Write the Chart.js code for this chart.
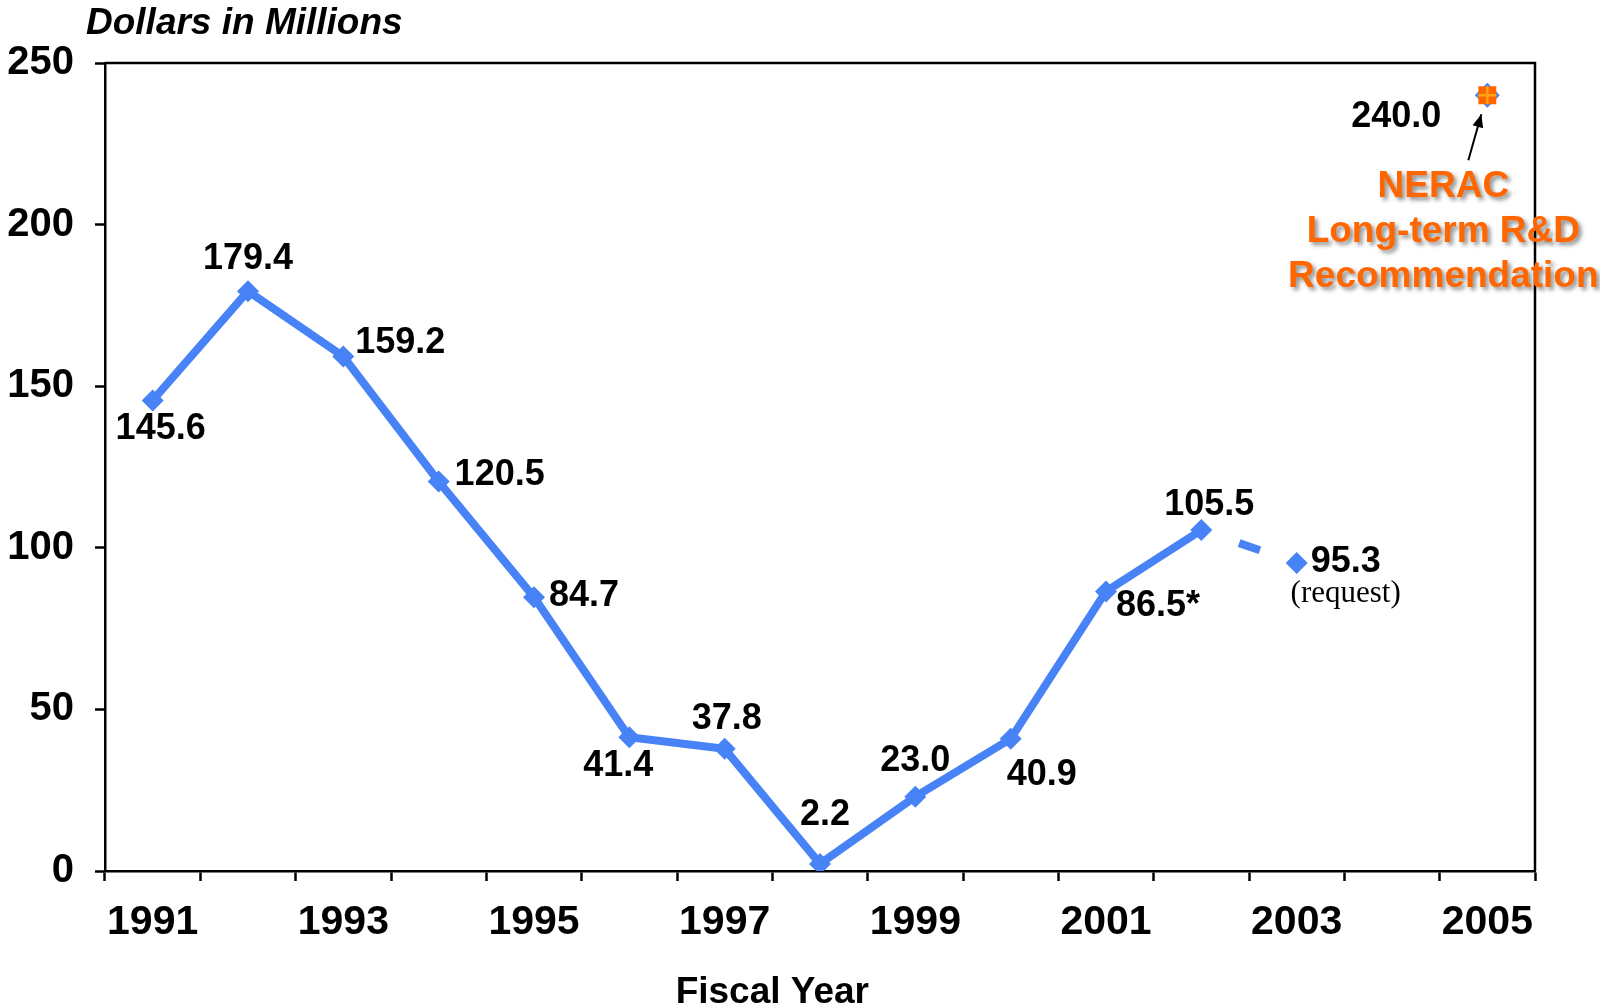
<!DOCTYPE html>
<html>
<head>
<meta charset="utf-8">
<title>Fiscal Year Funding</title>
<script src="https://cdn.jsdelivr.net/npm/chart.js@4/dist/chart.umd.min.js"></script>
<style>
  html, body { margin: 0; padding: 0; background: #fff; }
  #wrap { width: 1600px; height: 1008px; }
</style>
</head>
<body>
<div id="wrap"><canvas id="chart" width="1600" height="1008"></canvas></div>
<script>
// ---- data ----
const years = ['1991', '1992', '1993', '1994', '1995', '1996', '1997', '1998',
               '1999', '2000', '2001', '2002', '2003', '2004', '2005'];
const funding = [145.6, 179.4, 159.2, 120.5, 84.7, 41.4, 37.8, 2.2,
                 23.0, 40.9, 86.5, 105.5, 95.3, null, null];
const fundingSuffix = ['', '', '', '', '', '', '', '', '', '', '*', '', '', '', ''];
const requestYear = '2003';
const neracYear = '2005';
const neracValue = 240.0;
const yTicks = [0, 50, 100, 150, 200, 250];

// label offsets from each point (px)
const labelOffsets = [
  [8, 29], [0, -32], [57, -13], [61, -6], [50, -1], [-11, 29], [2, -30],
  [5, -49], [0, -36], [31, 36], [52, 15], [8, -25], [49, -1]
];

const BLUE = '#4783f6';
const ORANGE = '#ff6600';
const FONT = '"Liberation Sans", Arial, sans-serif';

// index of the last actual (solid) segment start
const dashedFrom = years.indexOf('2002');

// ---- text, arrow and frame drawn on top of the chart ----
const annotations = {
  id: 'annotations',
  afterDatasetsDraw(chart) {
    const ctx = chart.ctx;
    const area = chart.chartArea;
    const x = chart.scales.x;
    const y = chart.scales.y;
    ctx.save();

    // frame (top and right)
    ctx.strokeStyle = '#000';
    ctx.lineWidth = 2.5;
    ctx.beginPath();
    ctx.moveTo(area.left, area.top);
    ctx.lineTo(area.right, area.top);
    ctx.lineTo(area.right, area.bottom);
    ctx.stroke();

    // value labels
    ctx.fillStyle = '#000';
    ctx.font = 'bold 36px ' + FONT;
    ctx.textAlign = 'center';
    ctx.textBaseline = 'middle';
    funding.forEach((v, i) => {
      if (v === null) return;
      const px = x.getPixelForValue(i);
      const py = y.getPixelForValue(v);
      const off = labelOffsets[i];
      ctx.fillText(v.toFixed(1) + fundingSuffix[i], px + off[0], py + off[1]);
    });

    // "(request)" under the 2003 value
    const ri = years.indexOf(requestYear);
    const rx = x.getPixelForValue(ri);
    const ry = y.getPixelForValue(funding[ri]);
    ctx.font = '31px "Liberation Serif", "Times New Roman", serif';
    ctx.fillText('(request)', rx + 49, ry + 31);

    // NERAC recommendation
    const nx = x.getPixelForValue(years.indexOf(neracYear));
    const ny = y.getPixelForValue(neracValue);
    ctx.font = 'bold 36px ' + FONT;
    ctx.fillText(neracValue.toFixed(1), nx - 91, ny + 22);

    // arrow
    const ax0 = nx - 19, ay0 = ny + 65;
    const ax1 = nx - 6, ay1 = ny + 19;
    ctx.strokeStyle = '#000';
    ctx.lineWidth = 2;
    ctx.beginPath();
    ctx.moveTo(ax0, ay0);
    ctx.lineTo(ax1, ay1);
    ctx.stroke();
    const ang = Math.atan2(ay1 - ay0, ax1 - ax0);
    ctx.beginPath();
    ctx.moveTo(ax1, ay1);
    ctx.lineTo(ax1 - 14 * Math.cos(ang - 0.4), ay1 - 14 * Math.sin(ang - 0.4));
    ctx.lineTo(ax1 - 14 * Math.cos(ang + 0.4), ay1 - 14 * Math.sin(ang + 0.4));
    ctx.closePath();
    ctx.fillStyle = '#000';
    ctx.fill();

    // orange caption with soft shadow
    ctx.font = 'bold 37px ' + FONT;
    ctx.fillStyle = ORANGE;
    ctx.shadowColor = 'rgba(0,0,0,0.45)';
    ctx.shadowBlur = 4;
    ctx.shadowOffsetX = 3;
    ctx.shadowOffsetY = 3;
    ctx.fillText('NERAC', nx - 44, ny + 91);
    ctx.fillText('Long-term R&D', nx - 44, ny + 136);
    ctx.fillText('Recommendation', nx - 44, ny + 181);
    ctx.shadowColor = 'transparent';

    // axis captions
    ctx.fillStyle = '#000';
    ctx.font = 'italic bold 37px ' + FONT;
    ctx.textAlign = 'left';
    ctx.fillText('Dollars in Millions', 86, 24);
    ctx.textAlign = 'center';
    ctx.font = 'bold 37px ' + FONT;
    ctx.fillText('Fiscal Year', (x.getPixelForValue(6) + x.getPixelForValue(7)) / 2, 993);

    ctx.restore();
  }
};

const ctx = document.getElementById('chart').getContext('2d');
new Chart(ctx, {
  type: 'line',
  data: {
    labels: years,
    datasets: [
      {
        // cross inside the recommendation marker
        data: years.map(yr => yr === neracYear ? neracValue : null),
        showLine: false,
        pointStyle: 'cross',
        pointRadius: 9,
        pointBorderColor: '#ffa319',
        pointBorderWidth: 2.5,
        order: 0
      },
      {
        data: years.map(yr => yr === neracYear ? neracValue : null),
        showLine: false,
        pointStyle: 'rect',
        pointRadius: 12.7,
        pointBackgroundColor: ORANGE,
        pointBorderColor: ORANGE,
        pointBorderWidth: 0,
        order: 1
      },
      {
        data: years.map(yr => yr === neracYear ? neracValue : null),
        showLine: false,
        pointStyle: 'rectRot',
        pointRadius: 12.5,
        pointBackgroundColor: BLUE,
        pointBorderColor: BLUE,
        pointBorderWidth: 0,
        order: 2
      },
      {
        data: funding,
        borderColor: BLUE,
        borderWidth: 8,
        pointStyle: 'rectRot',
        pointRadius: 11,
        pointBackgroundColor: BLUE,
        pointBorderColor: BLUE,
        pointBorderWidth: 0,
        tension: 0,
        spanGaps: false,
        order: 3,
        segment: {
          borderDash: c => c.p0DataIndex === dashedFrom ? [22, 200] : undefined,
          borderDashOffset: c => c.p0DataIndex === dashedFrom ? -40 : undefined
        }
      }
    ]
  },
  options: {
    responsive: false,
    animation: false,
    layout: { padding: { top: 63, right: 65, left: 0, bottom: 0 } },
    plugins: {
      legend: { display: false },
      tooltip: { enabled: false }
    },
    scales: {
      x: {
        type: 'category',
        offset: true,
        afterFit: s => { s.height = 137; },
        grid: {
          offset: true,
          drawOnChartArea: false,
          drawTicks: true,
          tickLength: 10,
          tickWidth: 2.5,
          tickColor: '#000'
        },
        border: { display: true, color: '#000', width: 2.5 },
        ticks: {
          autoSkip: false,
          maxRotation: 0,
          padding: 17,
          color: '#000',
          font: { family: FONT, size: 41, weight: 'bold' },
          callback: (v, i) => i % 2 === 0 ? years[i] : ''
        }
      },
      y: {
        min: yTicks[0],
        max: yTicks[yTicks.length - 1],
        afterFit: s => { s.width = 105; },
        afterBuildTicks: s => { s.ticks = yTicks.map(v => ({ value: v })); },
        grid: {
          drawOnChartArea: false,
          drawTicks: true,
          tickLength: 10,
          tickWidth: 2.5,
          tickColor: '#000'
        },
        border: { display: true, color: '#000', width: 2.5 },
        ticks: {
          padding: 21,
          color: '#000',
          font: { family: FONT, size: 40, weight: 'bold' }
        }
      }
    }
  },
  plugins: [annotations]
});
</script>
</body>
</html>
